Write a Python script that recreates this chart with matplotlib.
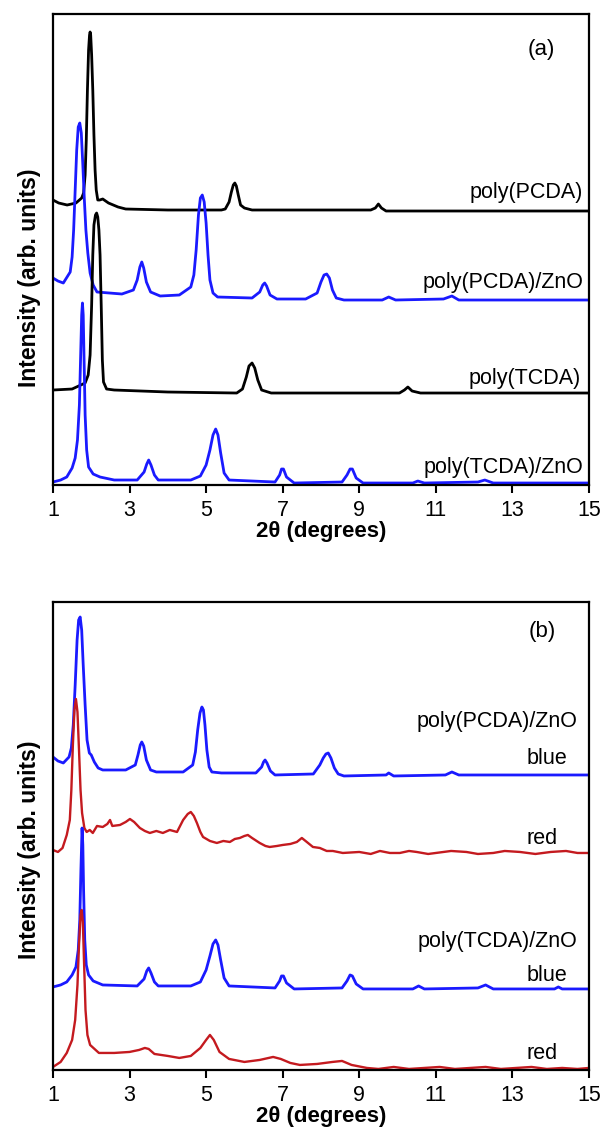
import numpy as np
import matplotlib
matplotlib.use("Agg")
import matplotlib.pyplot as plt

plt.rcParams['font.family'] = ['Liberation Sans', 'DejaVu Sans']

BLUE = '#1a1aff'
RED = '#c41a1f'
BLACK = '#000000'

# ---- panel (a) : stacked XRD patterns (intensity, arb. units incl. offset) ----
a_pcda_x = [1.0, 1.15, 1.37, 1.6, 1.75, 1.80, 1.84, 1.87, 1.90, 1.93, 1.955, 1.97, 1.985, 2.01,
            2.04, 2.07, 2.10, 2.13, 2.17, 2.22, 2.3, 2.45, 2.7, 2.9, 4.0, 5.4, 5.5, 5.6, 5.66,
            5.71, 5.75, 5.79, 5.84, 5.9, 6.0, 6.2, 7.0, 9.3, 9.42, 9.5, 9.58, 9.7, 11.0, 15.0]
a_pcda_y = [285, 282, 280, 282, 287, 292, 310, 345, 395, 435, 450, 453, 450, 430,
            395, 350, 315, 295, 285, 285, 286, 282, 278, 276, 275, 275, 276, 283, 293,
            300, 302, 299, 290, 280, 277, 275, 275, 275, 277, 281, 277, 274, 274, 274]

a_pcdazno_x = [1.0, 1.13, 1.27, 1.45, 1.50, 1.54, 1.58, 1.62, 1.66, 1.70, 1.74, 1.78, 1.82,
               1.86, 1.91, 1.97, 2.05, 2.15, 2.8, 3.1, 3.2, 3.27, 3.32, 3.37, 3.44, 3.55, 3.8,
               4.3, 4.6, 4.68, 4.74, 4.8, 4.85, 4.9, 4.95, 5.0, 5.05, 5.1, 5.18, 5.3, 6.2, 6.4,
               6.48, 6.53, 6.58, 6.67, 6.85, 7.6, 7.9, 8.0, 8.08, 8.15, 8.22, 8.3, 8.4, 8.6,
               9.6, 9.77, 9.95, 11.2, 11.42, 11.6, 15.0]
a_pcdazno_y = [207, 204, 202, 213, 228, 255, 295, 335, 358, 362, 352, 320, 285,
               255, 232, 212, 200, 193, 191, 195, 205, 218, 223, 217, 203, 193, 189,
               190, 198, 210, 235, 270, 287, 290, 283, 262, 230, 205, 192, 188, 187, 193,
               200, 202, 199, 190, 186, 186, 192, 203, 210, 211, 207, 195, 187, 185,
               185, 188, 185, 186, 189, 185, 185]

a_tcda_x = [1.0, 1.5, 1.84, 1.92, 1.97, 2.01, 2.04, 2.07, 2.11, 2.14, 2.17, 2.2, 2.23, 2.26,
            2.29, 2.32, 2.4, 2.6, 4.0, 5.8, 5.95, 6.05, 6.12, 6.2, 6.27, 6.35, 6.45, 6.7,
            10.05, 10.18, 10.27, 10.38, 10.6, 15.0]
a_tcda_y = [95, 96, 102, 110, 130, 180, 230, 260, 270, 272, 268, 255, 230, 180,
            125, 103, 96, 95, 93, 92, 96, 108, 119, 122, 117, 105, 95, 92,
            92, 95, 98, 94, 92, 92]

a_tcdazno_x = [1.0, 1.2, 1.36, 1.5, 1.58, 1.64, 1.69, 1.72, 1.75, 1.77, 1.79, 1.81, 1.84,
               1.88, 1.93, 2.05, 2.23, 2.6, 3.2, 3.38, 3.45, 3.5, 3.56, 3.65, 3.75, 4.6, 4.85,
               5.0, 5.1, 5.18, 5.25, 5.31, 5.38, 5.47, 5.6, 6.8, 6.92, 6.97, 7.02, 7.1, 7.3,
               8.55, 8.68, 8.76, 8.82, 8.92, 9.1, 10.4, 10.53, 10.7, 12.1, 12.28, 12.5, 15.0]
a_tcdazno_y = [3, 5, 8, 17, 27, 45, 80, 125, 170, 182, 170, 130, 70,
               35, 18, 11, 8, 5, 5, 13, 21, 25, 20, 10, 5, 5, 9,
               20, 35, 50, 56, 50, 32, 12, 5, 3, 10, 16, 16, 8, 2,
               3, 10, 16, 16, 7, 2, 2, 4, 2, 3, 5, 2, 2]

# ---- panel (b) : blue / red phases ----
b_pcda_blue_x = [1.0, 1.13, 1.27, 1.42, 1.48, 1.53, 1.58, 1.63, 1.67, 1.71, 1.75, 1.79, 1.84,
                 1.89, 1.95, 2.0, 2.08, 2.18, 2.3, 2.9, 3.15, 3.22, 3.28, 3.32, 3.37, 3.44,
                 3.55, 3.7, 4.4, 4.65, 4.72, 4.78, 4.84, 4.89, 4.93, 4.97, 5.02, 5.08, 5.15,
                 5.4, 6.3, 6.45, 6.5, 6.54, 6.59, 6.68, 6.8, 7.8, 7.97, 8.06, 8.13, 8.19,
                 8.26, 8.35, 8.45, 8.6, 9.7, 9.77, 9.9, 11.25, 11.42, 11.6, 15.0]
b_pcda_blue_y = [313, 309, 307, 313, 322, 345, 385, 430, 450, 453, 440, 405, 365,
                 330, 317, 315, 308, 302, 300, 300, 305, 315, 325, 328, 324, 310,
                 300, 298, 298, 305, 318, 340, 357, 363, 360, 345, 320, 303, 298,
                 297, 297, 303, 308, 310, 307, 299, 295, 296, 305, 312, 316, 317,
                 312, 302, 296, 294, 295, 297, 294, 295, 298, 295, 295]

b_pcda_red_x = [1.0, 1.13, 1.25, 1.36, 1.44, 1.48, 1.52, 1.56, 1.60, 1.64, 1.68, 1.72, 1.76,
                1.82, 1.88, 1.96, 2.04, 2.15, 2.3, 2.42, 2.49, 2.55, 2.75, 2.9, 3.01, 3.12,
                3.27, 3.4, 3.53, 3.7, 3.87, 4.05, 4.24, 4.4, 4.52, 4.6, 4.68, 4.76, 4.85,
                4.92, 5.1, 5.28, 5.45, 5.62, 5.75, 5.88, 6.0, 6.09, 6.2, 6.4, 6.55, 6.66,
                6.85, 7.0, 7.2, 7.37, 7.5, 7.63, 7.79, 7.97, 8.15, 8.31, 8.57, 9.0, 9.3,
                9.54, 9.8, 10.06, 10.3, 10.5, 10.8, 11.0, 11.4, 11.8, 12.1, 12.5, 12.8,
                13.2, 13.6, 14.0, 14.4, 14.7, 15.0]
b_pcda_red_y = [220, 218, 222, 235, 250, 280, 325, 360, 371, 358, 320, 280, 257,
                242, 238, 240, 237, 244, 243, 246, 250, 244, 245, 248, 251, 248,
                242, 239, 237, 239, 237, 240, 238, 250, 256, 258, 254, 247, 238,
                233, 229, 227, 229, 228, 231, 232, 234, 235, 232, 227, 224, 223,
                224, 225, 226, 228, 232, 228, 223, 222, 219, 219, 217, 218, 216,
                219, 217, 217, 219, 218, 216, 217, 219, 218, 216, 217, 219,
                218, 216, 218, 219, 217, 217]

b_tcda_blue_x = [1.0, 1.2, 1.36, 1.5, 1.6, 1.66, 1.7, 1.73, 1.76, 1.78, 1.8, 1.83, 1.87,
                 1.93, 2.05, 2.3, 3.2, 3.38, 3.45, 3.5, 3.56, 3.65, 3.75, 4.6, 4.85, 5.0,
                 5.1, 5.18, 5.25, 5.31, 5.38, 5.47, 5.6, 6.8, 6.92, 6.97, 7.02, 7.1, 7.3,
                 8.55, 8.68, 8.76, 8.82, 8.92, 9.1, 10.4, 10.55, 10.7, 12.1, 12.3, 12.5,
                 14.1, 14.2, 14.3, 15.0]
b_tcda_blue_y = [83, 85, 88, 95, 103, 120, 150, 200, 242, 225, 180, 130, 105,
                 95, 89, 85, 84, 91, 99, 102, 97, 88, 84, 84, 88, 100,
                 114, 126, 130, 125, 110, 92, 84, 82, 89, 94, 94, 87, 81,
                 82, 89, 95, 94, 86, 81, 81, 84, 81, 82, 85, 81,
                 81, 83, 81, 81]

b_tcda_red_x = [1.0, 1.2, 1.36, 1.5, 1.58, 1.64, 1.68, 1.72, 1.75, 1.78, 1.81, 1.85, 1.9,
                1.97, 2.2, 2.6, 3.0, 3.25, 3.4, 3.5, 3.65, 4.0, 4.3, 4.6, 4.85, 5.0, 5.1,
                5.2, 5.35, 5.6, 6.0, 6.4, 6.75, 6.95, 7.2, 7.45, 7.9, 8.3, 8.55, 8.8, 9.2,
                9.5, 9.9, 10.3, 10.7, 11.1, 11.5, 11.9, 12.3, 12.7, 13.1, 13.5, 13.9, 14.3,
                14.7, 15.0]
b_tcda_red_y = [3, 8, 17, 30, 50, 85, 125, 155, 160, 148, 110, 60, 35,
                25, 17, 17, 18, 20, 22, 21, 16, 14, 12, 14, 22, 30, 35,
                30, 18, 11, 8, 10, 13, 11, 7, 5, 6, 8, 9, 5, 2,
                1, 3, 1, 2, 3, 1, 2, 3, 1, 2, 3, 1, 2,
                1, 2]

xticks = [1, 3, 5, 7, 9, 11, 13, 15]

fig = plt.figure(figsize=(6.04, 11.38), dpi=100)
ax_a = fig.add_axes([0.0877, 0.5738, 0.8874, 0.4139])
ax_b = fig.add_axes([0.0877, 0.0598, 0.8874, 0.4112])

LW = 2.0
ax_a.plot(a_pcda_x, a_pcda_y, color=BLACK, lw=LW)
ax_a.plot(a_pcdazno_x, a_pcdazno_y, color=BLUE, lw=LW)
ax_a.plot(a_tcda_x, a_tcda_y, color=BLACK, lw=LW)
ax_a.plot(a_tcdazno_x, a_tcdazno_y, color=BLUE, lw=LW)

ax_b.plot(b_pcda_blue_x, b_pcda_blue_y, color=BLUE, lw=LW)
ax_b.plot(b_pcda_red_x, b_pcda_red_y, color=RED, lw=1.7)
ax_b.plot(b_tcda_blue_x, b_tcda_blue_y, color=BLUE, lw=LW)
ax_b.plot(b_tcda_red_x, b_tcda_red_y, color=RED, lw=1.7)

ax_a.set_ylim(0, 471)
ax_b.set_ylim(0, 468)
for ax, ly in ((ax_a, 0.44), (ax_b, 0.47)):
    ax.set_xlim(1, 15)
    ax.set_xticks(xticks)
    ax.set_yticks([])
    ax.tick_params(axis='x', direction='out', length=6, width=1.5, labelsize=15.5, pad=5)
    for sp in ax.spines.values():
        sp.set_linewidth(1.6)
    ax.set_xlabel('2θ (degrees)', fontsize=16, fontweight='bold', labelpad=0)
    ax.set_ylabel('Intensity (arb. units)', fontsize=16.5, fontweight='bold')
    ax.yaxis.set_label_coords(-0.022, ly)

# panel tags
ax_a.text(0.912, 0.924, '(a)', transform=ax_a.transAxes, fontsize=16, ha='center', va='center')
ax_b.text(0.912, 0.936, '(b)', transform=ax_b.transAxes, fontsize=16, ha='center', va='center')

# curve labels
fs = 15.5
ax_a.text(0.989, 0.620, 'poly(PCDA)', transform=ax_a.transAxes, fontsize=fs, ha='right', va='center')
ax_a.text(0.989, 0.429, 'poly(PCDA)/ZnO', transform=ax_a.transAxes, fontsize=fs, ha='right', va='center')
ax_a.text(0.985, 0.227, 'poly(TCDA)', transform=ax_a.transAxes, fontsize=fs, ha='right', va='center')
ax_a.text(0.989, 0.038, 'poly(TCDA)/ZnO', transform=ax_a.transAxes, fontsize=fs, ha='right', va='center')

ax_b.text(0.979, 0.744, 'poly(PCDA)/ZnO', transform=ax_b.transAxes, fontsize=fs, ha='right', va='center')
ax_b.text(0.959, 0.665, 'blue', transform=ax_b.transAxes, fontsize=fs, ha='right', va='center')
ax_b.text(0.942, 0.494, 'red', transform=ax_b.transAxes, fontsize=fs, ha='right', va='center')
ax_b.text(0.978, 0.274, 'poly(TCDA)/ZnO', transform=ax_b.transAxes, fontsize=fs, ha='right', va='center')
ax_b.text(0.959, 0.201, 'blue', transform=ax_b.transAxes, fontsize=fs, ha='right', va='center')
ax_b.text(0.942, 0.036, 'red', transform=ax_b.transAxes, fontsize=fs, ha='right', va='center')

fig.savefig('out.png', dpi=100)
